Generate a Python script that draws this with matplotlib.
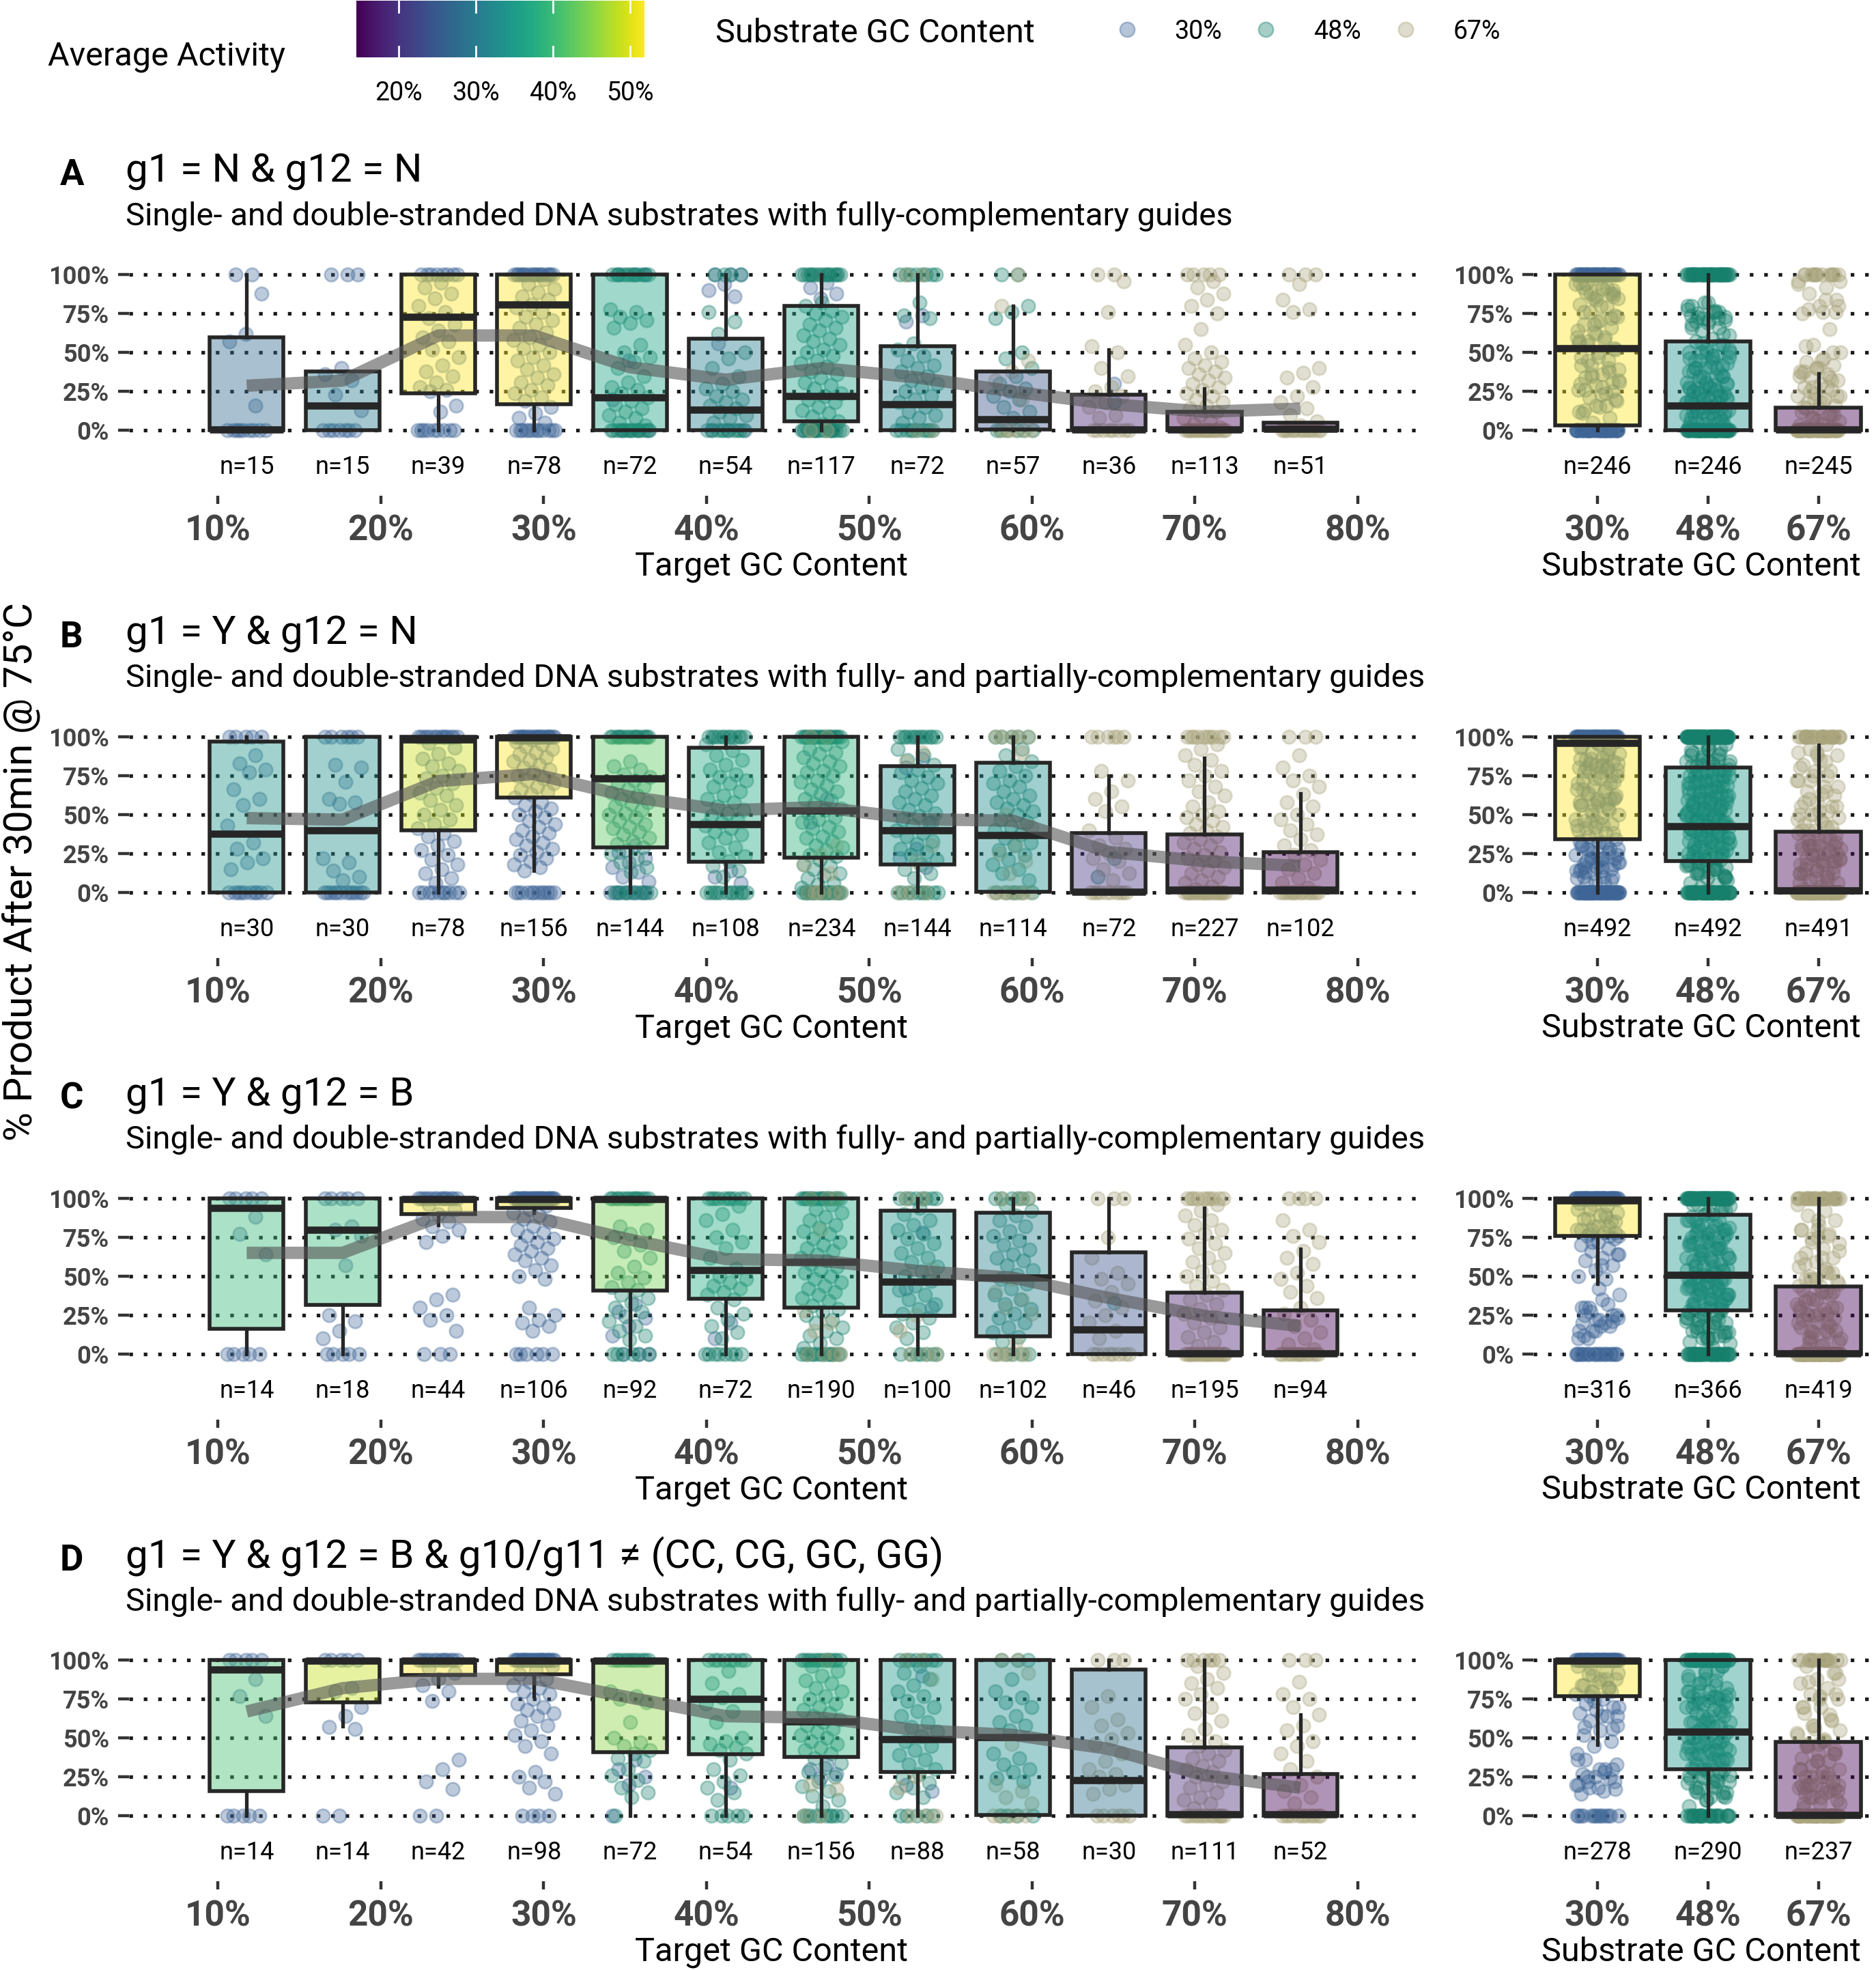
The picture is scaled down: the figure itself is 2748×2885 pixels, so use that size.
import numpy as np
import matplotlib
matplotlib.use("Agg")
import matplotlib.pyplot as plt

plt.rcParams['font.family'] = ['Roboto', 'DejaVu Sans']

# ---- data ----
titles = ['g1 = N & g12 = N', 'g1 = Y & g12 = N', 'g1 = Y & g12 = B',
          'g1 = Y & g12 = B & g10/g11 \u2260 (CC, CG, GC, GG)']
subtitles = ['Single- and double-stranded DNA substrates with fully-complementary guides',
             'Single- and double-stranded DNA substrates with fully- and partially-complementary guides',
             'Single- and double-stranded DNA substrates with fully- and partially-complementary guides',
             'Single- and double-stranded DNA substrates with fully- and partially-complementary guides']
letters = ['A', 'B', 'C', 'D']

target_gc = [11.76, 17.65, 23.53, 29.41, 35.29, 41.18, 47.06, 52.94, 58.82, 64.71, 70.59, 76.47]
substrate_gc = ['30%', '48%', '67%']

n_left = [[15, 15, 39, 78, 72, 54, 117, 72, 57, 36, 113, 51],
          [30, 30, 78, 156, 144, 108, 234, 144, 114, 72, 227, 102],
          [14, 18, 44, 106, 92, 72, 190, 100, 102, 46, 195, 94],
          [14, 14, 42, 98, 72, 54, 156, 88, 58, 30, 111, 52]]
n_right = [[246, 246, 245], [492, 492, 491], [316, 366, 419], [278, 290, 237]]

lo_left = [[0, 0, 0, 0, 0, 0, 0, 0, 0, 0, 0, 0],
           [0, 0, 0, 14, 0, 0, 0, 0, 0, 0, 0, 0],
           [0, 0, 83, 91, 0, 0, 0, 0, 0, 0, 0, 0],
           [0, 57.6, 83, 77, 0, 0, 0, 0, 0, 0, 0, 0]]
q1_left = [[0, 0, 24, 17, 0, 0, 6, 0, 0.5, 0, 0, 0],
           [0, 0, 39.7, 61, 29, 19.5, 22.4, 17.8, 0.5, 0, 0, 0],
           [16, 31.6, 89.7, 94, 40.7, 35.5, 30, 24.3, 11.3, 0, 0, 0],
           [16, 73, 90.6, 91, 41, 39.5, 38, 28, 0.5, 0, 0, 0]]
med_left = [[0.5, 16, 73, 81, 21, 13.5, 22, 17, 7, 0.5, 0.5, 0.8],
            [37.6, 40, 98, 99.5, 73, 44, 52.5, 40, 36.8, 0.5, 1.5, 1.5],
            [94, 80, 99.5, 99.5, 99.5, 54, 59, 46.3, 49.3, 15.6, 0.5, 0.5],
            [94, 99.5, 99.5, 99.5, 99.5, 75, 60.5, 49, 50.6, 23, 1, 1]]
q3_left = [[60, 38, 100, 100, 100, 59, 80, 54, 38, 23, 12, 5],
           [97, 100, 100, 100, 100, 93, 100, 81, 83.4, 38, 37, 25.7],
           [100, 100, 100, 100, 100, 100, 100, 92, 90.6, 65.5, 39.5, 28],
           [100, 100, 100, 100, 100, 100, 100, 100, 100, 94, 44, 27]]
hi_left = [[100, 38, 100, 100, 100, 100, 100, 100, 80, 52, 27, 5],
           [100, 100, 100, 100, 100, 100, 100, 100, 100, 75, 86.4, 63.6],
           [100, 100, 100, 100, 100, 100, 100, 100, 100, 100, 93.8, 67.7],
           [100, 100, 100, 100, 100, 100, 100, 100, 100, 100, 100, 65]]
mean_left = [[28.7, 32, 61, 61, 40.6, 32.6, 40, 34, 25, 17, 12, 14],
             [47.7, 46.7, 71.5, 76, 61.4, 52.7, 54.8, 47, 46, 26, 20, 17],
             [65, 65, 88, 88, 73.5, 61, 60, 53.4, 49, 36, 24.5, 18],
             [67, 82, 88, 88, 76, 64, 63, 55, 52, 43, 26, 18]]

lo_right = [[0, 0, 0], [0, 0, 0], [45, 0, 0], [45.7, 0, 0]]
q1_right = [[3, 0, 0], [34, 20, 0], [76, 28, 0], [77, 30, 0]]
med_right = [[53, 16, 0.5], [96, 42.5, 1], [98.7, 51, 0.5], [99.5, 54, 0.5]]
q3_right = [[100, 57, 14.7], [100, 80, 39], [100, 89.6, 43.5], [100, 100, 47.6]]
hi_right = [[100, 100, 36.5], [100, 100, 94.6], [100, 100, 100], [100, 100, 100]]
mean_right = [[53, 33, 12], [70, 48, 22], [85, 56, 24], [87, 58, 25]]

# visible points per box, by substrate GC (b=30%, t=48%, k=67%); "v*k" = k points at v
pts_A = [
    "b: 100*2 88 62 57 16 0*9",
    "b: 100*3 40 36 32 23 13 0*7",
    "b: 100*8 95 92 88 85 80 76 72 68 64 60 57 52 47 42 38 35 31 28 26 25 16 12 0*9",
    "b: 100*18 97 94 91 89 86 84 81 79 76 73 71 68 66 63 60 58 55 53 50 47 45 42 39 36 34 31 29 26 24 21 19 15 11 8 5 0*12",
    "t: 100*12 78 76 73 71 69 66 55 50 47 44 40 35 31 28 26 24 21 19 17 14 12 10 8 5 3 0*14; b: 100*3 45 20 0*3",
    "t: 100*4 76 70 62 50 46 40 35 30 27 25 22 20 18 16 14 12 10 8 5 0*10; b: 100*3 94 90 86 56 0*3",
    "t: 100*16 82 80 77 75 73 71 68 66 64 61 59 57 55 52 50 48 45 43 41 38 36 34 31 29 27 24 22 20 18 15 13 11 9 6 4 2 0*16; b: 95 92 88 85 0*3; k: 0*2",
    "t: 100*8 82 74 72 56 52 48 45 42 40 38 35 32 30 28 25 22 20 18 15 12 10 8 5 0*10; b: 74 70; k: 100*2 0*2",
    "t: 100*2 80 76 72 50 46 40 35 30 27 25 22 20 15 12 8 0*6; k: 100 80 45 38 32 20 0*6",
    "k: 100*2 96 76 54 50 40 35 28 25 22 18 15 10 8 0*8; b: 30; t: 18",
    "k: 100*5 96 92 88 84 80 75 65 55 50 46 44 42 40 38 36 34 32 30 28 26 24 22 20 18 16 14 12 10 8 6 4 2 0*20",
    "k: 100*3 94 84 78 76 40 37 34 28 22 18 14 10 6 3 0*14",
]
pts_B = [
    "b: 100*5 88 83 79 77 66 60 56 43 32 28 22 19 15 0*10",
    "b: 100*6 82 80 71 60 58 57 22 19 14 10 8 0*12",
    "b: 100*14 96 93 89 86 83 81 78 75 73 70 67 64 62 59 56 53 50 47 44 41 38 36 33 30 27 24 21 18 15 12 9 6 0*10",
    "b: 100*24 98 97 95 94 92 90 89 87 85 84 82 80 79 77 75 73 72 70 68 66 65 63 61 58 56 54 52 50 48 46 44 42 40 38 36 34 32 30 28 26 24 22 20 18 16 14 0*12",
    "t: 100*16 84 81 79 76 74 72 70 68 66 64 62 60 58 57 55 53 51 50 48 46 44 42 41 39 37 35 33 31 29 27 25 22 19 16 13 0*8; b: 30 26 22 19 16 13 10 7 0*8",
    "t: 100*12 95 91 88 85 82 79 76 74 72 70 68 65 62 60 58 55 53 51 49 47 45 43 41 39 37 35 32 29 26 23 20 17 14 10 0*12; b: 14 10 6",
    "t: 100*20 97 95 92 90 89 87 84 83 81 78 77 75 72 71 69 66 65 63 60 59 57 54 53 51 48 47 45 42 41 39 36 35 33 30 29 27 24 23 21 18 17 15 12 11 9 6 5 3 0*18; k: 100*2 30 24 18 12 0*6; b: 60 45",
    "t: 100*12 92 88 85 82 79 77 74 72 70 67 65 62 60 58 56 53 51 49 47 45 43 40 38 36 33 31 28 26 24 21 18 15 12 9 0*10; b: 86 80 45 28 22 16; k: 90 84 30 20 0*3",
    "t: 100*5 92 88 84 81 78 75 72 70 68 65 62 60 58 56 54 52 50 47 45 42 40 37 35 32 30 27 24 21 18 15 12 8 0*6; k: 100*5 90 50 42 30 25 20 12 0*8",
    "k: 100*6 78 72 65 60 55 52 40 35 30 28 25 22 20 15 12 8 0*10; t: 22 10",
    "k: 100*10 95 92 88 85 82 78 75 72 68 65 62 58 55 52 50 48 46 44 42 40 38 36 34 32 30 28 26 24 22 20 18 16 14 12 10 8 6 4 2 0*24",
    "k: 100*3 88 80 75 72 68 63 58 55 50 47 44 40 37 34 30 27 24 21 18 15 12 9 6 3 0*14",
]
pts_C = [
    "b: 100*5 88 77 64 0*5",
    "b: 100*5 82 80 76 57 25 21 15 10 0*5",
    "b: 100*14 96 93 90 87 85 82 80 76 72 38 35 30 25 22 15 0*3",
    "b: 100*30 97 95 93 91 89 87 85 82 80 78 76 74 72 70 68 66 64 62 60 57 54 50 48 30 25 22 20 18 15 0*6",
    "t: 100*14 82 80 77 75 70 66 62 56 52 49 46 43 41 38 36 33 30 27 24 21 18 15 12 9 0*6; b: 32 27 23 18 12 0*3",
    "t: 100*10 95 90 86 80 75 72 68 62 55 50 48 46 44 42 40 38 35 30 26 22 18 14 10 0*8; b: 20 10",
    "t: 100*18 96 93 91 88 86 83 81 79 77 74 72 70 68 66 64 62 60 58 56 54 52 50 48 46 44 42 40 38 36 34 31 29 27 25 22 20 17 15 12 10 7 4 0*14; k: 100*3 80 28 20 15 0*4",
    "t: 100*8 94 90 86 83 80 77 74 71 68 65 62 59 56 53 50 47 44 41 38 35 32 29 26 23 20 17 14 10 0*7; b: 78 42 30; k: 100*2 55 25 15 0*3",
    "t: 100*6 96 92 89 86 82 79 76 73 70 67 64 62 60 57 54 51 48 45 42 38 35 32 29 26 23 20 17 14 11 8 0*5; k: 100*3 48 40 35 30 26 8 0*6",
    "k: 100*3 75 62 52 48 45 40 34 30 25 20 15 10 0*8; t: 33",
    "k: 100*10 96 92 89 86 83 80 77 74 71 68 65 62 59 56 53 50 47 44 41 38 35 32 29 26 23 20 17 14 11 8 5 0*24",
    "k: 100*4 86 80 76 72 66 62 58 52 48 44 40 36 30 26 22 18 14 10 6 3 0*14",
]
pts_D = [
    "b: 100*5 88 77 64 0*5",
    "b: 100*5 82 80 70 64 57 56 0*2",
    "b: 100*14 95 92 88 84 80 74 36 30 22 17 0*2",
    "b: 100*28 96 93 91 88 86 84 82 80 78 75 72 70 68 66 64 61 58 55 52 48 45 40 28 25 22 18 14 0*4",
    "t: 100*12 80 77 75 73 60 50 47 45 42 40 37 35 30 26 23 18 15 12 0; b: 36 30 25 20 0",
    "t: 100*8 93 85 78 76 72 67 60 50 48 46 44 42 40 36 30 26 22 18 15 10 0*5; b: 18",
    "t: 100*14 96 93 90 87 85 82 80 77 75 72 70 68 66 64 62 60 58 56 54 52 50 48 46 44 42 40 37 34 31 28 25 22 19 16 13 10 6 0*10; b: 33 30 27 24; k: 100 20 17 0*2",
    "t: 100*8 96 92 88 84 80 77 74 70 67 64 60 57 54 51 48 45 42 39 36 33 30 27 24 21 18 15 12 0*5; b: 90 20 16; k: 100*2 88 25 18 0*3",
    "t: 100*3 88 80 76 73 70 64 60 58 55 40 37 33 30 28 24 22 0*4; k: 100*2 92 46 20 16 12 8 0*5",
    "k: 100*3 77 70 62 58 53 49 46 40 35 30 27 25 20 17 14 0*6",
    "k: 100*6 96 92 88 85 82 78 75 70 66 61 56 52 48 45 42 40 37 35 32 30 28 25 22 20 18 15 12 10 8 5 0*14",
    "k: 100*3 86 78 75 70 65 58 55 48 45 40 35 30 25 20 16 12 8 0*12",
]
pts_rows = [pts_A, pts_B, pts_C, pts_D]

sub_colors = {'b': '#3e6596', 't': '#17806c', 'k': '#a9a47c'}

# ---- layout (reference pixel grid scaled to 1500 x 1575) ----
W, H = 1500.0, 1575.0
row_zero = [344.1, 713.4, 1082.5, 1451.7]
pct_px = 124.4
YMIN, YMAX = -42.2, 106.8


def parse(s):
    out = {}
    for part in s.split(';'):
        g, vals = part.split(':')
        v = []
        for tok in vals.split():
            if '*' in tok:
                a, k = tok.split('*')
                v += [float(a)] * int(k)
            else:
                v.append(float(tok))
        out[g.strip()] = v
    return out


def jitter(n, w):
    return np.array([(((i + 1) * 0.618034) % 1 - 0.5) * 2 * w for i in range(n)])


def rect(x0, x1, y0, y1):
    return [x0 / W, 1 - y1 / H, (x1 - x0) / W, (y1 - y0) / H]


def style_axis(ax):
    for s in ax.spines.values():
        s.set_visible(False)
    ax.set_ylim(YMIN, YMAX)
    for yv in [0, 25, 50, 75, 100]:
        ax.axhline(yv, color='#1a1a1a', lw=1.9, ls=(0, (1.0, 3.0)), zorder=1)
    ax.set_yticks([0, 25, 50, 75, 100])
    ax.set_yticklabels(['0%', '25%', '50%', '75%', '100%'], fontsize=13,
                       fontweight='bold', color='#444444')
    ax.tick_params(axis='y', length=5.8, width=1.6, color='#333333', pad=4.5)
    ax.tick_params(axis='x', length=4.2, width=1.6, color='#333333', pad=5.3)
    ax.patch.set_visible(False)


def draw_boxes(ax, pos, lo, q1, med, q3, hi, means, width):
    m = np.array(means, dtype=float)
    norm = (m - m.min()) / (m.max() - m.min())
    stats = [dict(whislo=lo[i], q1=q1[i], med=med[i], q3=q3[i], whishi=hi[i], fliers=[])
             for i in range(len(pos))]
    bp = ax.bxp(stats, positions=pos, widths=width, patch_artist=True, showcaps=False,
                showfliers=False, manage_ticks=False, zorder=3,
                boxprops=dict(edgecolor='#262626', linewidth=2.0),
                medianprops=dict(color='#262626', linewidth=3.8, solid_capstyle='butt'),
                whiskerprops=dict(color='#262626', linewidth=1.9))
    for b, v in zip(bp['boxes'], norm):
        r, g, bl, _ = plt.cm.viridis(v)
        b.set_facecolor((r, g, bl, 0.42))


def draw_points(ax, x, vals, color, jw):
    if not vals:
        return
    xs = x + jitter(len(vals), jw)
    ax.scatter(xs, vals, s=50, facecolor=color, edgecolor=color, alpha=0.34,
               linewidths=1.0, zorder=2)


fig = plt.figure(figsize=(13.74, 14.425), dpi=200)

for r in range(4):
    z = row_zero[r]
    top, bot = z - YMAX * pct_px / 100, z - YMIN * pct_px / 100
    axl = fig.add_axes(rect(103, 1132, top, bot))
    axr = fig.add_axes(rect(1226, 1500, top, bot))
    style_axis(axl)
    style_axis(axr)

    parsed = [parse(s) for s in pts_rows[r]]
    pooled = {'b': [], 't': [], 'k': []}
    for i, p in enumerate(parsed):
        for g in ['b', 't', 'k']:
            if g in p:
                draw_points(axl, target_gc[i], p[g], sub_colors[g], 1.3)
                pooled[g] += p[g]
    for j, g in enumerate(['b', 't', 'k']):
        draw_points(axr, j + 1, pooled[g], sub_colors[g], 0.2)

    draw_boxes(axl, target_gc, lo_left[r], q1_left[r], med_left[r], q3_left[r],
               hi_left[r], mean_left[r], 4.53)
    draw_boxes(axr, [1, 2, 3], lo_right[r], q1_right[r], med_right[r], q3_right[r],
               hi_right[r], mean_right[r], 0.77)
    axl.plot(target_gc, mean_left[r], color='#555555', alpha=0.6, lw=6.5,
             solid_capstyle='butt', zorder=4)

    for x, n in zip(target_gc, n_left[r]):
        axl.text(x, -28, f'n={n}', ha='center', va='baseline', fontsize=13)
    for x, n in zip([1, 2, 3], n_right[r]):
        axr.text(x, -28, f'n={n}', ha='center', va='baseline', fontsize=13)

    axl.set_xlim(4.52, 83.56)
    axl.set_xticks([10, 20, 30, 40, 50, 60, 70, 80])
    axl.set_xticklabels(['10%', '20%', '30%', '40%', '50%', '60%', '70%', '80%'],
                        fontsize=18.5, fontweight='bold', color='#444444')
    axr.set_xlim(0.42, 3.52)
    axr.set_xticks([1, 2, 3])
    axr.set_xticklabels(substrate_gc, fontsize=18.5, fontweight='bold', color='#444444')

# ---- overlay for text and legends ----
ov = fig.add_axes([0, 0, 1, 1])
ov.set_xlim(0, W)
ov.set_ylim(H, 0)
ov.axis('off')

for r in range(4):
    z = row_zero[r]
    ov.text(48, z - 196, letters[r], fontsize=19, fontweight='bold', va='baseline')
    ov.text(100.5, z - 198.5, titles[r], fontsize=21, va='baseline')
    ov.text(100.5, z - 164, subtitles[r], fontsize=17, va='baseline')
    ov.text(617, z + 116, 'Target GC Content', fontsize=17.5, ha='center', va='baseline')
    ov.text(1360, z + 116, 'Substrate GC Content', fontsize=17.5, ha='center', va='baseline')

ov.text(17, 697, '% Product After 30min @ 75\u00b0C', fontsize=21, rotation=90,
        ha='center', va='center')

# colour legend
ov.text(38, 52, 'Average Activity', fontsize=17.5, va='baseline')
cax = fig.add_axes(rect(285, 515, 0.5, 46))
grad = np.linspace(14.56, 51.8, 256).reshape(1, -1)
cax.imshow(grad, cmap='viridis', aspect='auto', extent=[14.56, 51.8, 0, 1])
for v in [20, 30, 40, 50]:
    cax.plot([v, v], [0, 0.2], color='white', lw=1)
    cax.plot([v, v], [0.8, 1], color='white', lw=1)
cax.set_xlim(14.56, 51.8)
cax.set_ylim(0, 1)
cax.axis('off')
for v, x in zip(['20%', '30%', '40%', '50%'], [318.6, 380.7, 442, 504]):
    ov.text(x, 80, v, fontsize=13.5, ha='center', va='baseline')

# point legend
ov.text(572, 33.7, 'Substrate GC Content', fontsize=17.5, va='baseline')
for g, lab, xd, xl in zip(['b', 't', 'k'], substrate_gc, [901, 1012, 1124], [939, 1050, 1162]):
    ov.scatter([xd], [23.7], s=60, facecolor=sub_colors[g], edgecolor=sub_colors[g],
               alpha=0.38, linewidths=0.9)
    ov.text(xl, 31, lab, fontsize=13.5, va='baseline')

fig.savefig('out.png', dpi=200)
